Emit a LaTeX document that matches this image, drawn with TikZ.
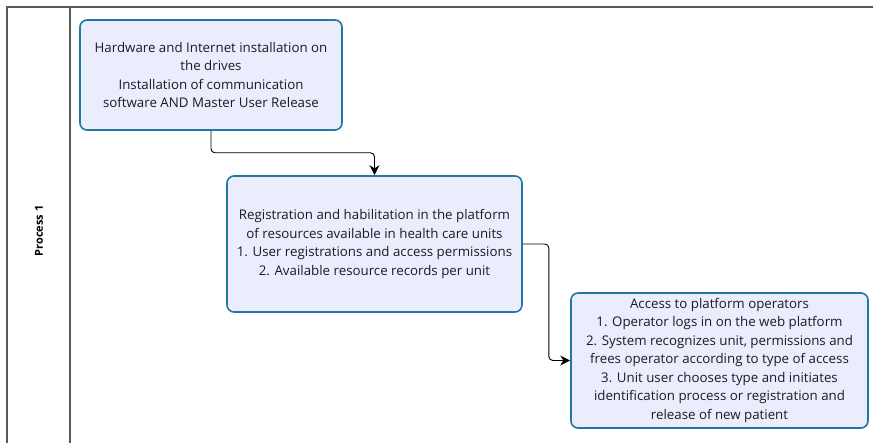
\documentclass[tikz,border=0pt]{standalone}
\usepackage{fontspec}
\setmainfont{Open Sans}
\usepackage{tikz}
\usetikzlibrary{arrows.meta, positioning, calc}
\definecolor{laneLine}{RGB}{90, 90, 90}
\definecolor{taskBorder}{RGB}{38, 118, 165}
\definecolor{taskFill}{RGB}{234, 237, 252}
\definecolor{taskText}{RGB}{30, 25, 40}

\begin{document}
\begin{tikzpicture}[
    x=1pt, y=-1pt,
    task/.style={
        rectangle,
        draw=taskBorder,
        fill=taskFill,
        line width=1.6pt,
        rounded corners=7pt,
        align=center,
        inner sep=2pt,
        text=taskText,
        font=\fontsize{13.3}{18.5}\selectfont
    },
    flow/.style={
        draw=black,
        line width=0.9pt,
        rounded corners=4pt,
        -{Stealth[length=10pt, width=10pt]}
    }
]
    \useasboundingbox (0,0) rectangle (873,443);

    % Lane
    \draw[laneLine, line width=1.4pt] (873,7) -- (7,7) -- (7,443);
    \draw[laneLine, line width=1.4pt] (70,7) -- (70,443);
    \node[rotate=90, font=\fontsize{11}{13}\selectfont\bfseries] (lane) at (39,231) {Process 1};

    % Tasks
    \node[task, minimum width=262, minimum height=110] (install) at (211,75)
        {Hardware and Internet installation on\\the drives\\Installation of communication\\software AND Master User Release};
    \node[task, minimum width=295, minimum height=136] (register) at (374.5,244)
        {Registration and habilitation in the platform\\of resources available in health care units\\1. User registrations and access permissions\\2. Available resource records per unit};
    \node[task, minimum width=297, minimum height=135] (access) at (719.5,360.5)
        {Access to platform operators\\1. Operator logs in on the web platform\\2. System recognizes unit, permissions and\\frees operator according to type of access\\3. Unit user chooses type and initiates\\identification process or registration and\\release of new patient};

    % Flows
    \draw[flow] (install.south) -- ++(0,22) -| (register.north);
    \draw[flow] (register.east) -- ++(26,0) |- (access.west);

\end{tikzpicture}
\end{document}
